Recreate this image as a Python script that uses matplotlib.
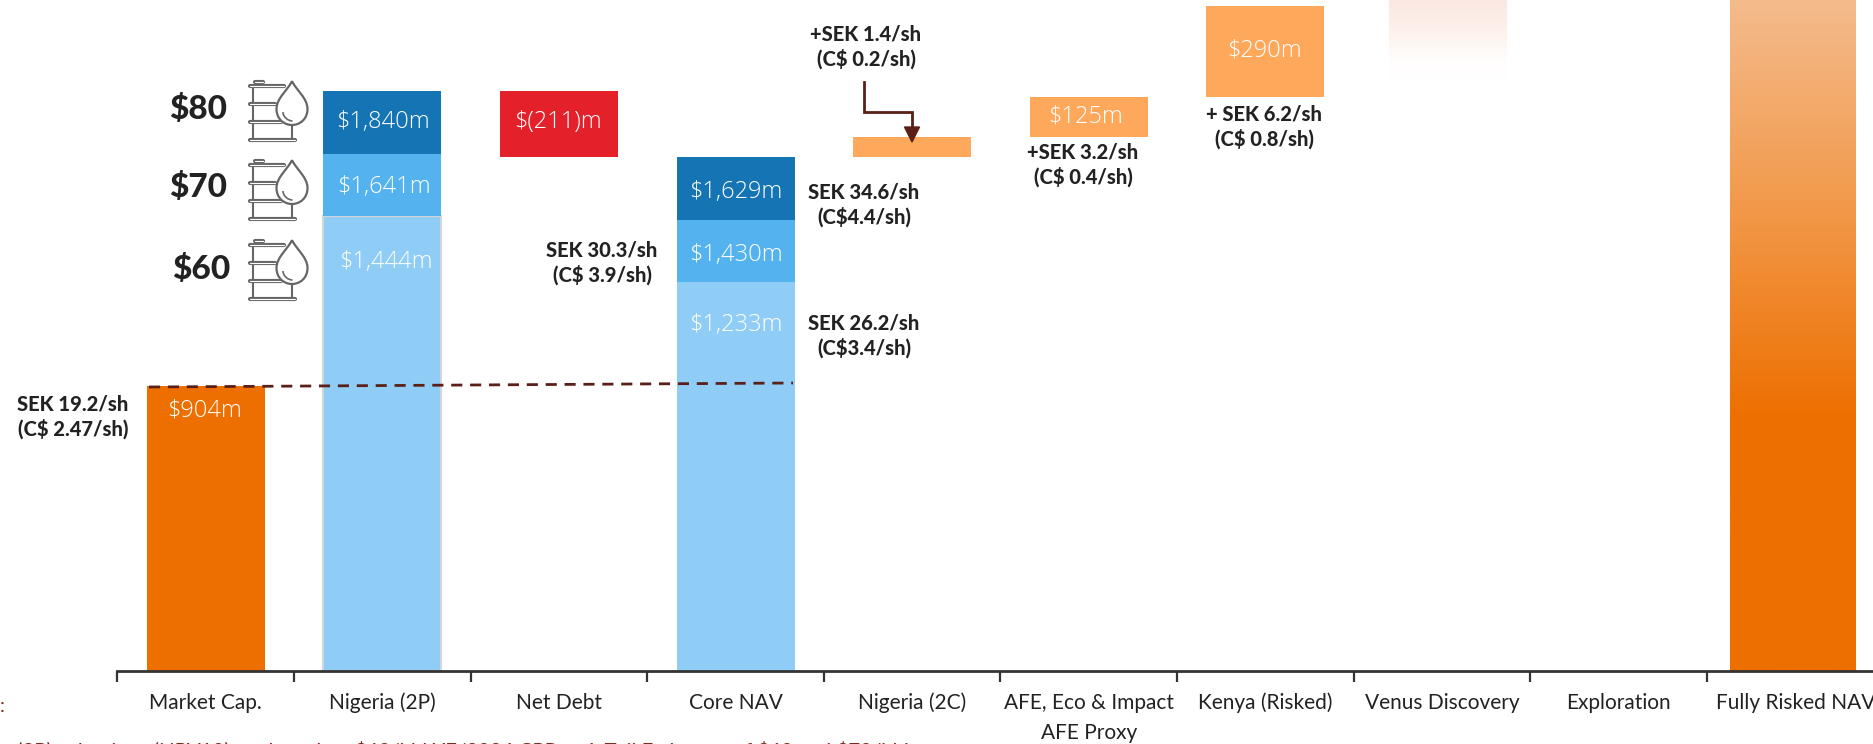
import numpy as np
import matplotlib
matplotlib.use("Agg")
import matplotlib.pyplot as plt
from matplotlib.path import Path
from matplotlib.patches import PathPatch
from matplotlib.colors import LinearSegmentedColormap

categories = ["Market Cap.", "Nigeria (2P)", "Net Debt", "Core NAV", "Nigeria (2C)",
              "AFE, Eco & Impact\nAFE Proxy", "Kenya (Risked)", "Venus Discovery",
              "Exploration", "Fully Risked NAV"]
market_cap = 904
nigeria_levels = [1444, 1641, 1840]
nigeria_labels = ["$1,444m", "$1,641m", "$1,840m"]
net_debt = 211
core_levels = [1233, 1430, 1629]
core_labels = ["$1,233m", "$1,430m", "$1,629m"]
nigeria_2c = 66
afe = 125
kenya = 290
venus_range = [1874, 2128]
fully_risked_top = 2128
oil_prices = ["$60", "$70", "$80"]

W, H = 1873, 744
BASE = 671.0
PX = 0.3153      # px per $m
STEP = 176.6
X0 = 205.8

fig = plt.figure(figsize=(W / 100, H / 100), dpi=100, facecolor="white")
ax = fig.add_axes([0, (H - BASE) / H, 1, BASE / H])
ax.set_facecolor("none")
for s in ["top", "left", "right"]:
    ax.spines[s].set_visible(False)
ax.spines["bottom"].set_linewidth(2)
ax.spines["bottom"].set_color("#333333")
ax.spines["bottom"].set_bounds(-0.5, 10)
ax.yaxis.set_visible(False)

LB = ["Lato", "Open Sans", "DejaVu Sans"]
OS = ["Open Sans", "DejaVu Sans"]

idx = np.arange(len(categories))
ax.set_xticks(idx)
ax.set_xticklabels(categories, fontsize=15, family=LB, color="#222222", linespacing=1.68, va="top")
ax.tick_params(axis="x", which="major", length=0, pad=15.5)
ax.set_xticks(np.arange(0, 10) - 0.5, minor=True)
ax.tick_params(axis="x", which="minor", length=8, width=1.6, color="#333333")

BW = 0.668
ORANGE, LO, RED = "#ED6F00", "#FEA85C", "#E4202A"
D, M, L = "#1474B4", "#54B2EF", "#8FCCF6"

ax.bar(0, market_cap, BW, color=ORANGE, zorder=2)
ax.bar(1, nigeria_levels[0], BW, color=L, edgecolor="#D2D6D8", linewidth=1.5, zorder=2)
ax.bar(1, nigeria_levels[1] - nigeria_levels[0], BW, bottom=nigeria_levels[0], color=M, zorder=2)
ax.bar(1, nigeria_levels[2] - nigeria_levels[1], BW, bottom=nigeria_levels[1], color=D, zorder=2)
ax.bar(2, net_debt, BW, bottom=nigeria_levels[2] - net_debt, color=RED, zorder=2)
ax.bar(3, core_levels[0], BW, color=L, zorder=2)
ax.bar(3, core_levels[1] - core_levels[0], BW, bottom=core_levels[0], color=M, zorder=2)
ax.bar(3, core_levels[2] - core_levels[1], BW, bottom=core_levels[1], color=D, zorder=2)
b2c = core_levels[2]
ax.bar(4, nigeria_2c, BW, bottom=b2c, color=LO, zorder=2)
bafe = b2c + nigeria_2c
ax.bar(5, afe, BW, bottom=bafe, color=LO, zorder=2)
bk = bafe + afe
ax.bar(6, kenya, BW, bottom=bk, color=LO, zorder=2)

def grad(x0, x1, y0, y1, stops):
    cmap = LinearSegmentedColormap.from_list("g", stops)
    ax.imshow(np.linspace(0, 1, 256)[:, None], extent=[x0, x1, y0, y1], origin="lower",
              cmap=cmap, aspect="auto", zorder=2, interpolation="bilinear")

vc = 7 + 0.035
grad(vc - BW / 2, vc + BW / 2, venus_range[0], venus_range[1],
     [(0, "#FFFFFF"), (0.25, "#FFFDFC"), (0.6, "#FDF2EC"), (1, "#FBE7E1")])
fc = 9 - 0.015
grad(fc - 0.354, fc + 0.354, 0, fully_risked_top,
     [(0, ORANGE), (0.378, ORANGE), (0.70, "#F29A4C"), (1, "#F4BB8C")])
ax.set_xlim((0 - X0) / STEP, (W - X0) / STEP)
ax.set_ylim(0, BASE / PX)

T = fig.transFigure
def ptext(x, y, s, **kw):
    kw.setdefault("ha", "center")
    kw.setdefault("va", "center")
    fig.text(x / W, (H - y) / H, s, **kw)

def val(x, y, s, fs=17):
    ptext(x, y, s, color="white", fontsize=fs, family=OS, fontweight="light", zorder=5)

val(205, 411, "$904m")
val(383, 122, nigeria_labels[2])
val(384, 187, nigeria_labels[1])
val(386, 262, nigeria_labels[0])
val(558, 121.5, "$(211)m")
val(736, 192, core_labels[2])
val(736, 255, core_labels[1])
val(736, 325, core_labels[0])
val(1086, 117, "$125m")
val(1264, 51, "$290m")

def note(x, y, s, fs=14.5):
    ptext(x, y, s, color="#222222", fontsize=fs, family=LB, fontweight="black", linespacing=1.28)

note(73, 417, "SEK 19.2/sh\n(C$ 2.47/sh)")
note(602, 263, "SEK 30.3/sh\n(C$ 3.9/sh)")
note(864, 205, "SEK 34.6/sh\n(C$4.4/sh)")
note(864, 336, "SEK 26.2/sh\n(C$3.4/sh)")
note(866, 47, "+SEK 1.4/sh\n(C$ 0.2/sh)")
note(1083, 165, "+SEK 3.2/sh\n(C$ 0.4/sh)")
note(1264, 127, "+ SEK 6.2/sh\n(C$ 0.8/sh)")

for y, s, xx in zip([269, 187, 108.5], oil_prices, [201, 198, 198]):
    ptext(xx, y, s, color="#222222", fontsize=24, family=LB, fontweight="black")

# dashed line between market cap and core NAV
fig.add_artist(plt.Line2D([149 / W, 793 / W], [(H - 387) / H, (H - 383) / H],
                          color="#5A2018", lw=2, ls=(0, (4, 2.8)), zorder=6))
# elbow arrow
fig.add_artist(plt.Line2D([864 / W, 864 / W, 912 / W, 912 / W],
                          [(H - 82) / H, (H - 112) / H, (H - 112) / H, (H - 128) / H],
                          color="#5A2018", lw=2, zorder=6, solid_joinstyle="miter"))
fig.add_artist(plt.Polygon([[904.5 / W, (H - 127) / H], [919.5 / W, (H - 127) / H], [912 / W, (H - 142) / H]],
                           closed=True, color="#5A2018", transform=T, zorder=6))

# barrel + drop icon
IC = "#666666"
def icon(ox, oy):
    def ln(xs, ys, lw=1.5, c=IC, z=5.0):
        fig.add_artist(plt.Line2D([(ox + a) / W for a in xs], [(H - oy - b) / H for b in ys],
                                  color=c, lw=lw, zorder=z, solid_capstyle="round"))
    def rbar(x0, x1, y):
        ln([x0, x1], [y, y], lw=3.0, z=5.1)
        ln([x0, x1], [y, y], lw=0.8, c="#FFFFFF", z=5.2)
    ln([4.5, 4.5], [5, 58])
    ln([44, 44], [42, 58])
    ln([9, 9], [1, 3.5]); ln([14, 14], [1, 3.5])
    rbar(2, 36, 4.5)
    rbar(2, 27, 23)
    rbar(2, 33, 41)
    rbar(2, 47, 58.5)
    rbar(7, 15, 0.8)
    cx, top, bot, r = 44, 0, 44, 15.5
    verts = [(cx, top), (cx - 4, 9), (cx - r, 17), (cx - r, 28),
             (cx - r, 38), (cx - 8, bot), (cx, bot),
             (cx + 8, bot), (cx + r, 38), (cx + r, 28),
             (cx + r, 17), (cx + 4, 9), (cx, top)]
    codes = [Path.MOVETO] + [Path.CURVE4] * 12
    vv = [((ox + a) / W, (H - oy - b) / H) for a, b in verts]
    fig.add_artist(PathPatch(Path(vv, codes), fc="white", ec=IC, lw=1.6, transform=T, zorder=5.5))
    v2 = [(cx - 9, 31), (cx - 9, 36), (cx - 4, 40), (cx + 0.5, 40)]
    vv2 = [((ox + a) / W, (H - oy - b) / H) for a, b in v2]
    fig.add_artist(PathPatch(Path(vv2, [Path.MOVETO] + [Path.CURVE4] * 3), fc="none", ec=IC, lw=1.2,
                             transform=T, zorder=5.6))

icon(248, 81)
icon(248, 160)
icon(248, 240)

# footnotes cut off at the lower edge
FOOT = "#7A2A1E"
ptext(0, 707, ":", ha="left", color=FOOT, fontsize=14, family=LB)
ptext(17, 750, "(2P) valuations (NPV10) are based on $60/bbl YE/2024 CPR at 1-Tail Estimates of $60 and $70/bbl",
      ha="left", color=FOOT, fontsize=14.7, family=LB)

fig.savefig("out.png", dpi=100)
